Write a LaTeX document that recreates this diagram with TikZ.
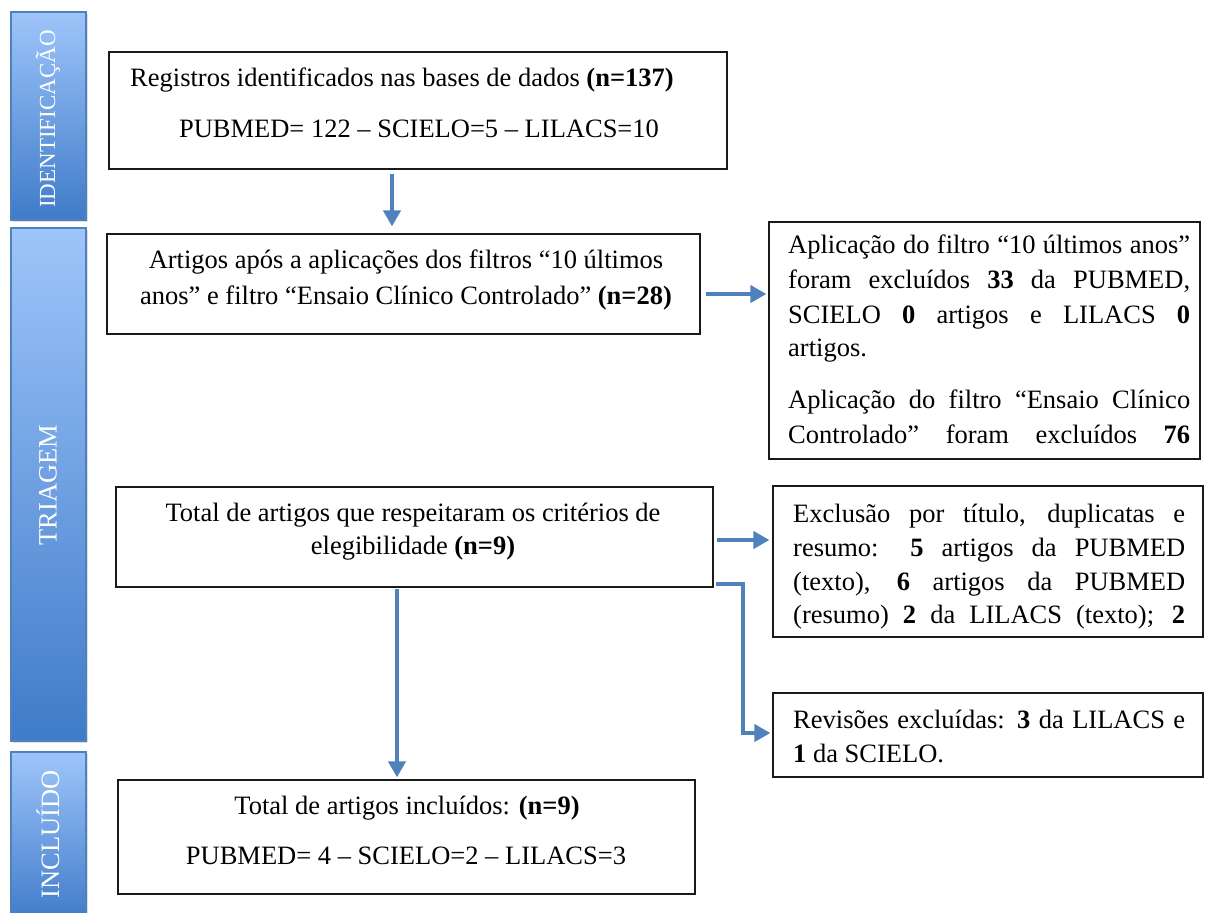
\documentclass[tikz,border=0pt]{standalone}
\usepackage{fontspec}
\setmainfont{Liberation Serif}
\usetikzlibrary{arrows.meta,calc,shadows}
\definecolor{bartop}{HTML}{9EC5FA}
\definecolor{barbot}{HTML}{3F7BC9}
\definecolor{barline}{HTML}{4F81BD}
\definecolor{arrowblue}{HTML}{4F81BD}
\definecolor{boxline}{HTML}{1A1A1A}
\begin{document}
\begin{tikzpicture}[x=1pt,y=-1pt,
  box/.style={draw=boxline, line width=1.2pt, inner sep=0pt, fill=white},
  bar/.style={draw=barline, line width=1.2pt, top color=bartop, bottom color=barbot, inner sep=0pt, minimum width=75pt,
    drop shadow={opacity=0.25, shadow xshift=1.5pt, shadow yshift=-2pt}},
  bartext/.style={rotate=90, text=white, inner sep=0pt},
  txt/.style={inner sep=0pt, font=\fontsize{26.5pt}{34pt}\selectfont},
  arr/.style={draw=arrowblue, line width=4pt, -{Triangle[length=16pt,width=17pt]}},
]
\useasboundingbox (0,0) rectangle (1205,913);
\clip (0,0) rectangle (1205,913);

% phase bars
\node[bar, minimum height=208pt] (p1) at (48.5,116) {};
\node[bar, minimum height=513pt] (p2) at (48.5,484.5) {};
\node[bar, minimum height=170pt] (p3) at (48.5,837) {};
\node[bartext, font=\fontsize{23pt}{26pt}\selectfont] (p1t) at (48,119) {IDENTIFICAÇÃO};
\node[bartext, font=\fontsize{26.5pt}{30pt}\selectfont] (p2t) at (48,485) {TRIAGEM};
\node[bartext, font=\fontsize{26.5pt}{30pt}\selectfont] (p3t) at (48,834) {INCLUÍDO};

% boxes
\node[box, minimum width=618pt, minimum height=117pt] (b1) at (418,110.5) {};
\node[box, minimum width=593pt, minimum height=100pt] (b2) at (403.5,284) {};
\node[box, minimum width=431pt, minimum height=237pt] (b3) at (984.5,340.5) {};
\node[box, minimum width=597pt, minimum height=100pt] (b4) at (414.5,537) {};
\node[box, minimum width=430pt, minimum height=151pt] (b5) at (988,561.5) {};
\node[box, minimum width=430pt, minimum height=84pt] (b6) at (988,735) {};
\node[box, minimum width=577pt, minimum height=114pt] (b7) at (406.5,837) {};

% box 1 text
\node[txt, anchor=base west] (t1a) at (130,86) {Registros identificados nas bases de dados \textbf{(n=137)}};
\node[txt, anchor=base] (t1b) at (419,137) {PUBMED= 122 – SCIELO=5 – LILACS=10};

% box 2 text
\node[txt, anchor=base] (t2a) at (406,268) {Artigos após a aplicações dos filtros “10 últimos};
\node[txt, anchor=base] (t2b) at (406,304) {anos” e filtro “Ensaio Clínico Controlado” \textbf{(n=28)}};

% box 3 text
\node[txt, anchor=base west] (t3a) at (788,253) {\makebox[402pt][s]{Aplicação do filtro “10 últimos anos”}};
\node[txt, anchor=base west] (t3b) at (788,288) {\makebox[402pt][s]{foram excluídos \textbf{33} da PUBMED,}};
\node[txt, anchor=base west] (t3c) at (788,323) {\makebox[402pt][s]{SCIELO \textbf{0} artigos e LILACS \textbf{0}}};
\node[txt, anchor=base west] (t3d) at (788,356) {artigos.};
\node[txt, anchor=base west] (t3e) at (788,408) {\makebox[402pt][s]{Aplicação do filtro “Ensaio Clínico}};
\node[txt, anchor=base west] (t3f) at (788,443) {\makebox[402pt][s]{Controlado” foram excluídos \textbf{76}}};

% box 4 text
\node[txt, anchor=base] (t4a) at (413,521) {Total de artigos que respeitaram os critérios de};
\node[txt, anchor=base] (t4b) at (413,554) {elegibilidade \textbf{(n=9)}};

% box 5 text
\node[txt, anchor=base west] (t5a) at (793,522) {\makebox[392pt][s]{Exclusão por título, duplicatas e}};
\node[txt, anchor=base west] (t5b) at (793,556) {\makebox[392pt][s]{resumo: \textbf{5} artigos da PUBMED}};
\node[txt, anchor=base west] (t5c) at (793,590) {\makebox[392pt][s]{(texto), \textbf{6} artigos da PUBMED}};
\node[txt, anchor=base west] (t5d) at (793,623) {\makebox[392pt][s]{(resumo) \textbf{2} da LILACS (texto); \textbf{2}}};

% box 6 text
\node[txt, anchor=base west] (t6a) at (793,728) {\makebox[392pt][s]{Revisões excluídas: \textbf{3} da LILACS e}};
\node[txt, anchor=base west] (t6b) at (793,762) {\textbf{1} da SCIELO.};

% box 7 text
\node[txt, anchor=base] (t7a) at (407,814) {Total de artigos incluídos: \textbf{(n=9)}};
\node[txt, anchor=base] (t7b) at (406,864) {PUBMED= 4 – SCIELO=2 – LILACS=3};

% connectors
\draw[arr] ($(b1.south)+(-26,4)$) -- ($(b1.south |- b2.north)+(-26,-7)$);
\draw[arr] ($(b2.east)+(5,10)$) -- ($(b2.east -| b3.west)+(-2,10)$);
\draw[arr] ($(b4.east)+(3,3)$) -- ($(b4.east -| b5.west)+(-3,3)$);
\draw[arr] ($(b4.south east)+(2,-4)$) -| ($(b6.west)+(-29,-2)$) -- ($(b6.west)+(-2,-2)$);
\draw[arr] ($(b4.south)+(-17.5,1)$) -- ($(b4.south |- b7.north)+(-17.5,-2)$);
\end{tikzpicture}
\end{document}
